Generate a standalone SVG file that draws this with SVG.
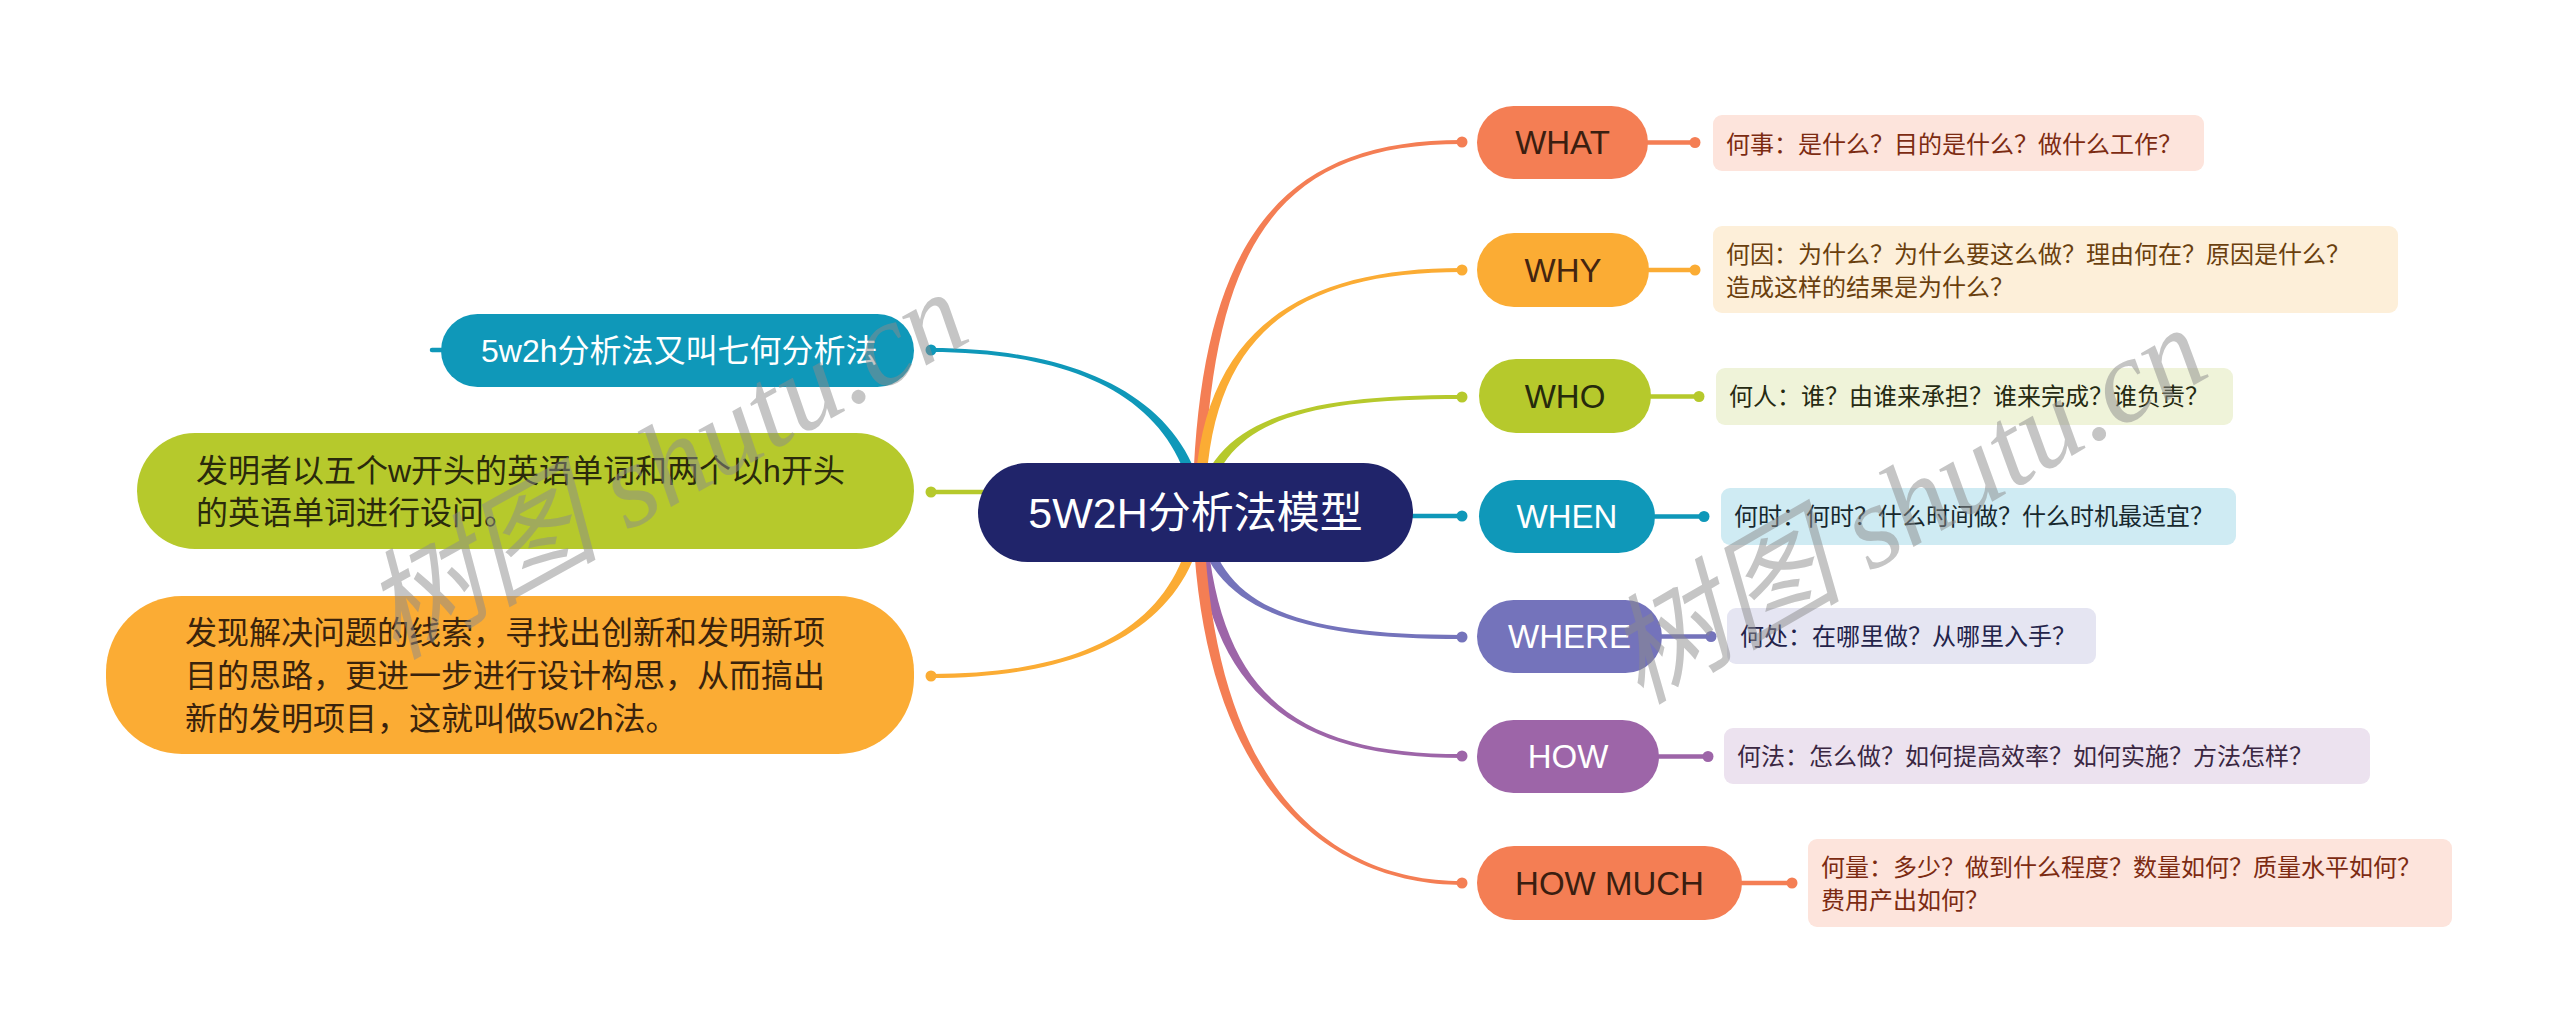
<svg xmlns="http://www.w3.org/2000/svg" width="2560" height="1033" viewBox="0 0 2560 1033">
<style>
.t{font-family:"Liberation Sans","Noto Sans CJK SC",sans-serif}
.d{font-family:"Noto Sans CJK SC","Liberation Sans",sans-serif;font-size:24px}
.lbl{font-size:33px;text-anchor:middle}
.big{font-size:32px}
.ln{stroke-width:4.5;fill:none;stroke-linecap:round}
.wm{font-family:"Liberation Serif","Noto Sans CJK SC",serif;font-style:italic;font-size:118px;fill:#8c8c8c;opacity:0.5}
</style>
<rect width="2560" height="1033" fill="#ffffff"/>
<g id="connectors">
  <path d="M1203.5,512 C1207.5,240 1280,144 1462,144 L1462,140 C1280,140 1196.5,240 1192.5,512 Z" fill="#f47e54"/>
  <path d="M1205.5,512 C1205.5,330 1300,272 1462,272 L1462,268 C1300,268 1194.5,330 1194.5,512 Z" fill="#fbac34"/>
  <path d="M1205.4,512.9 C1220.4,420.9 1300,399 1462,399 L1462,395 C1300,395 1209.6,419.1 1194.6,511.1 Z" fill="#b6c92c"/>
  <path d="M1200,516 L1462,516" class="ln" stroke="#0f98b9"/>
  <path d="M1194.5,512.6 C1204.5,610.6 1300,639 1462,639 L1462,635 C1300,635 1215.5,609.4 1205.5,511.4 Z" fill="#7473bb"/>
  <path d="M1194.5,512.3 C1204.5,700.3 1300,758 1462,758 L1462,754 C1300,754 1215.5,699.7 1205.5,511.7 Z" fill="#9d65a8"/>
  <path d="M1192.5,512.1 C1199.5,800.1 1340,885 1462,885 L1462,881 C1340,881 1210.5,799.9 1203.5,511.9 Z" fill="#f47e54"/>
  <path d="M1205.5,511.3 C1190.5,399.3 1080,348 931,348 L931,352 C1080,352 1179.5,400.7 1194.5,512.7 Z" fill="#0f98b9"/>
  <path d="M1200,492 L931,492" class="ln" stroke="#b6c92c"/>
  <path d="M1194.5,511.3 C1179.5,629.3 1080,674 931,674 L931,678 C1080,678 1190.5,630.7 1205.5,512.7 Z" fill="#fbac34"/>
  <path d="M432,350 L441,350" class="ln" stroke="#0f98b9"/>
  <g>
    <circle cx="1462" cy="142" r="5.5" fill="#f47e54"/>
    <circle cx="1462" cy="270" r="5.5" fill="#fbac34"/>
    <circle cx="1462" cy="397" r="5.5" fill="#b6c92c"/>
    <circle cx="1462" cy="516" r="5.5" fill="#0f98b9"/>
    <circle cx="1462" cy="637" r="5.5" fill="#7473bb"/>
    <circle cx="1462" cy="756" r="5.5" fill="#9d65a8"/>
    <circle cx="1462" cy="883" r="5.5" fill="#f47e54"/>
    <circle cx="931" cy="350" r="5.5" fill="#0f98b9"/>
    <circle cx="931" cy="492" r="5.5" fill="#b6c92c"/>
    <circle cx="931" cy="676" r="5.5" fill="#fbac34"/>
  </g>
  <g>
    <path d="M1648,142.5 L1695,142.5" class="ln" stroke="#f47e54"/>
    <circle cx="1695" cy="142.5" r="5.5" fill="#f47e54"/>
    <path d="M1649,270 L1695,270" class="ln" stroke="#fbac34"/>
    <circle cx="1695" cy="270" r="5.5" fill="#fbac34"/>
    <path d="M1651,396.5 L1699,396.5" class="ln" stroke="#b6c92c"/>
    <circle cx="1699" cy="396.5" r="5.5" fill="#b6c92c"/>
    <path d="M1655,516.5 L1704,516.5" class="ln" stroke="#0f98b9"/>
    <circle cx="1704" cy="516.5" r="5.5" fill="#0f98b9"/>
    <path d="M1662,636.5 L1711,636.5" class="ln" stroke="#7473bb"/>
    <circle cx="1711" cy="636.5" r="5.5" fill="#7473bb"/>
    <path d="M1659,756.5 L1708,756.5" class="ln" stroke="#9d65a8"/>
    <circle cx="1708" cy="756.5" r="5.5" fill="#9d65a8"/>
    <path d="M1742,883 L1792,883" class="ln" stroke="#f47e54"/>
    <circle cx="1792" cy="883" r="5.5" fill="#f47e54"/>
  </g>
</g>
<g id="center">
  <rect x="978" y="463" width="435" height="99" rx="49.5" fill="#20246a"/>
  <text x="1195.5" y="528" class="t" font-size="43" fill="#ffffff" text-anchor="middle">5W2H分析法模型</text>
</g>
<g id="n-what">
  <rect x="1477" y="106" width="171" height="73" rx="36.5" fill="#f47e54"/>
  <text x="1562.5" y="154" class="t lbl" fill="#3b1e10">WHAT</text>
</g>
<g id="n-why">
  <rect x="1477" y="233" width="172" height="74" rx="37" fill="#fbac34"/>
  <text x="1563" y="281.5" class="t lbl" fill="#442510">WHY</text>
</g>
<g id="n-who">
  <rect x="1479" y="359" width="172" height="74" rx="37" fill="#b6c92c"/>
  <text x="1565" y="407.5" class="t lbl" fill="#262a0c">WHO</text>
</g>
<g id="n-when">
  <rect x="1479" y="480" width="176" height="73" rx="36.5" fill="#0f98b9"/>
  <text x="1567" y="528" class="t lbl" fill="#ffffff">WHEN</text>
</g>
<g id="n-where">
  <rect x="1477" y="600" width="185" height="73" rx="36.5" fill="#7473bb"/>
  <text x="1569.5" y="648" class="t lbl" fill="#ffffff">WHERE</text>
</g>
<g id="n-how">
  <rect x="1477" y="720" width="182" height="73" rx="36.5" fill="#9d65a8"/>
  <text x="1568" y="768" class="t lbl" fill="#ffffff">HOW</text>
</g>
<g id="n-howmuch">
  <rect x="1477" y="846" width="265" height="74" rx="37" fill="#f47e54"/>
  <text x="1609.5" y="894.5" class="t lbl" fill="#3b1e10">HOW MUCH</text>
</g>
<g id="d-what">
  <rect x="1713" y="115" width="491" height="56" rx="9" fill="#fde4dc"/>
  <text x="1726" y="152.5" class="d" fill="#7c2b12">何事：是什么？目的是什么？做什么工作？</text>
</g>
<g id="d-why">
  <rect x="1713" y="226" width="685" height="87" rx="9" fill="#fdefd9"/>
  <text class="d" fill="#6a3f0e"><tspan x="1726" y="263">何因：为什么？为什么要这么做？理由何在？原因是什么？</tspan><tspan x="1726" y="296">造成这样的结果是为什么？</tspan></text>
</g>
<g id="d-who">
  <rect x="1716" y="368" width="517" height="57" rx="9" fill="#eff3d9"/>
  <text x="1729" y="405" class="d" fill="#262a12">何人：谁？由谁来承担？谁来完成？谁负责？</text>
</g>
<g id="d-when">
  <rect x="1721" y="488" width="515" height="57" rx="9" fill="#cfebf3"/>
  <text x="1734" y="525" class="d" fill="#17282e">何时：何时？什么时间做？什么时机最适宜？</text>
</g>
<g id="d-where">
  <rect x="1727" y="608" width="369" height="56" rx="9" fill="#e5e5f2"/>
  <text x="1740" y="645" class="d" fill="#23234a">何处：在哪里做？从哪里入手？</text>
</g>
<g id="d-how">
  <rect x="1724" y="728" width="646" height="56" rx="9" fill="#ece2ef"/>
  <text x="1737" y="765" class="d" fill="#3a2742">何法：怎么做？如何提高效率？如何实施？方法怎样？</text>
</g>
<g id="d-howmuch">
  <rect x="1808" y="839" width="644" height="88" rx="9" fill="#fde4dc"/>
  <text class="d" fill="#7c2b12"><tspan x="1821" y="876">何量：多少？做到什么程度？数量如何？质量水平如何？</tspan><tspan x="1821" y="909">费用产出如何？</tspan></text>
</g>
<g id="n-alias">
  <rect x="441" y="314" width="473" height="73" rx="36.5" fill="#0f98b9"/>
  <text x="481" y="362" class="t big" fill="#ffffff">5w2h分析法又叫七何分析法</text>
</g>
<g id="n-inventor">
  <rect x="137" y="433" width="777" height="116" rx="58" fill="#b6c92c"/>
  <text class="t big" fill="#2a2a0c"><tspan x="196" y="482">发明者以五个w开头的英语单词和两个以h开头</tspan><tspan x="196" y="524">的英语单词进行设问。</tspan></text>
</g>
<g id="n-purpose">
  <rect x="106" y="596" width="808" height="158" rx="76" fill="#fbac34"/>
  <text class="t big" fill="#3a230c"><tspan x="185" y="644">发现解决问题的线索，寻找出创新和发明新项</tspan><tspan x="185" y="687">目的思路，更进一步进行设计构思，从而搞出</tspan><tspan x="185" y="730">新的发明项目，这就叫做5w2h法。</tspan></text>
</g>
<g id="watermarks">
  <text class="wm" transform="translate(395,660) rotate(-29)">树图 shutu.cn</text>
  <text class="wm" transform="translate(1640,705) rotate(-30)">树图 shutu.cn</text>
</g>
</svg>
